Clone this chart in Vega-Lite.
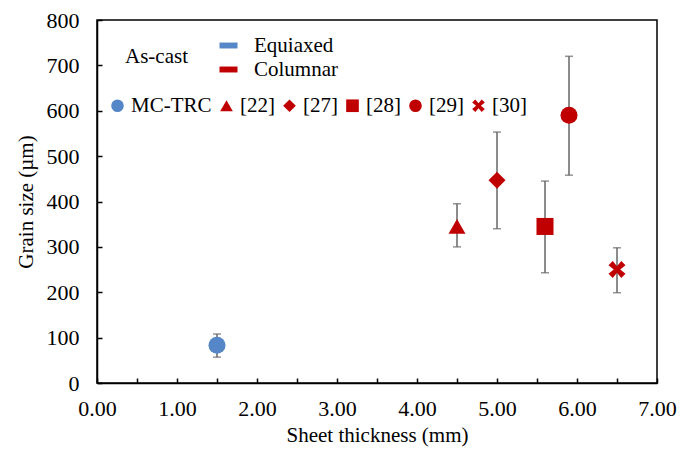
{
  "$schema": "https://vega.github.io/schema/vega-lite/v6.json",
  "width": 560,
  "height": 363,
  "autosize": {"type": "none"},
  "padding": {"left": 97, "top": 20, "right": 31, "bottom": 67},
  "background": "white",
  "config": {
    "font": "Liberation Serif",
    "view": {"stroke": "black", "strokeWidth": 1.5},
    "axis": {
      "grid": false,
      "domainColor": "black",
      "domainWidth": 1.5,
      "tickColor": "black",
      "tickWidth": 1.5,
      "tickSize": -5,
      "labelFont": "Liberation Serif",
      "labelFontSize": 22,
      "labelColor": "black",
      "labelFlush": false,
      "titleFont": "Liberation Serif",
      "titleFontSize": 21,
      "titleFontWeight": "normal",
      "titleColor": "black"
    },
    "legend": {
      "labelFont": "Liberation Serif",
      "labelFontSize": 21,
      "labelColor": "black",
      "titleFont": "Liberation Serif",
      "titleFontSize": 21,
      "titleFontWeight": "normal",
      "titleColor": "black"
    }
  },
  "data": {
    "values": [
      {"source": "MC-TRC", "structure": "Equiaxed", "thickness": 1.5, "grain": 83, "lo": 57, "hi": 108},
      {"source": "[22]", "structure": "Columnar", "thickness": 4.5, "grain": 345, "lo": 300, "hi": 395},
      {"source": "[27]", "structure": "Columnar", "thickness": 5.0, "grain": 447, "lo": 340, "hi": 553},
      {"source": "[28]", "structure": "Columnar", "thickness": 5.6, "grain": 345, "lo": 243, "hi": 445},
      {"source": "[29]", "structure": "Columnar", "thickness": 5.9, "grain": 590, "lo": 458, "hi": 720},
      {"source": "[30]", "structure": "Columnar", "thickness": 6.5, "grain": 250, "lo": 199, "hi": 298}
    ]
  },
  "encoding": {
    "x": {
      "field": "thickness",
      "type": "quantitative",
      "title": "Sheet thickness (mm)",
      "scale": {"domain": [0, 7], "nice": false, "zero": false},
      "axis": {
        "values": [0, 0.5, 1, 1.5, 2, 2.5, 3, 3.5, 4, 4.5, 5, 5.5, 6, 6.5, 7],
        "labelExpr": "datum.value % 1 === 0 ? format(datum.value, '.2f') : ''",
        "labelPadding": 20,
        "titlePadding": 5
      }
    }
  },
  "layer": [
    {
      "mark": {"type": "rule", "color": "#666666", "strokeWidth": 1.5},
      "encoding": {
        "y": {
          "field": "lo",
          "type": "quantitative",
          "title": "Grain size (µm)",
          "scale": {"domain": [0, 800], "nice": false},
          "axis": {"values": [0, 100, 200, 300, 400, 500, 600, 700, 800], "labelPadding": 23, "titlePadding": 10}
        },
        "y2": {"field": "hi"}
      }
    },
    {
      "mark": {"type": "tick", "orient": "horizontal", "color": "#666666", "size": 8, "thickness": 1.5},
      "encoding": {"y": {"field": "lo", "type": "quantitative"}}
    },
    {
      "mark": {"type": "tick", "orient": "horizontal", "color": "#666666", "size": 8, "thickness": 1.5},
      "encoding": {"y": {"field": "hi", "type": "quantitative"}}
    },
    {
      "mark": {"type": "point", "filled": true, "opacity": 0, "size": 10},
      "encoding": {
        "y": {"field": "grain", "type": "quantitative"},
        "fill": {
          "field": "structure",
          "type": "nominal",
          "scale": {"domain": ["Equiaxed", "Columnar"], "range": ["#5587c8", "#c00000"]},
          "legend": {
            "title": "As-cast",
            "titleOrient": "left",
            "titleAnchor": "middle",
            "titleBaseline": "middle",
            "titlePadding": 30,
            "orient": "none",
            "legendX": 28,
            "legendY": 15,
            "symbolType": "M-1,-0.33H1V0.33H-1Z",
            "symbolSize": 324,
            "symbolOpacity": 1,
            "symbolStrokeWidth": 0,
            "labelOffset": 15,
            "rowPadding": 2
          }
        }
      }
    },
    {
      "mark": {"type": "point", "filled": true, "opacity": 1, "size": 290},
      "encoding": {
        "y": {"field": "grain", "type": "quantitative"},
        "color": {
          "field": "source",
          "type": "nominal",
          "scale": {
            "domain": ["MC-TRC", "[22]", "[27]", "[28]", "[29]", "[30]"],
            "range": ["#5587c8", "#c00000", "#c00000", "#c00000", "#c00000", "#c00000"]
          },
          "legend": {
            "title": null,
            "orient": "none",
            "direction": "horizontal",
            "legendX": 10,
            "legendY": 75,
            "symbolSize": 160,
            "symbolOpacity": 1,
            "symbolStrokeWidth": 0,
            "labelOffset": 3,
            "columnPadding": 4
          }
        },
        "shape": {
          "field": "source",
          "type": "nominal",
          "scale": {
            "domain": ["MC-TRC", "[22]", "[27]", "[28]", "[29]", "[30]"],
            "range": ["circle", "triangle-up", "diamond", "square", "circle", "M-1,-0.5L-0.5,-1L0,-0.38L0.5,-1L1,-0.5L0.38,0L1,0.5L0.5,1L0,0.38L-0.5,1L-1,0.5L-0.38,0Z"]
          },
          "legend": {
            "title": null,
            "orient": "none",
            "direction": "horizontal",
            "legendX": 10,
            "legendY": 75,
            "symbolSize": 160,
            "symbolOpacity": 1,
            "symbolStrokeWidth": 0,
            "labelOffset": 3,
            "columnPadding": 4
          }
        }
      }
    }
  ]
}
